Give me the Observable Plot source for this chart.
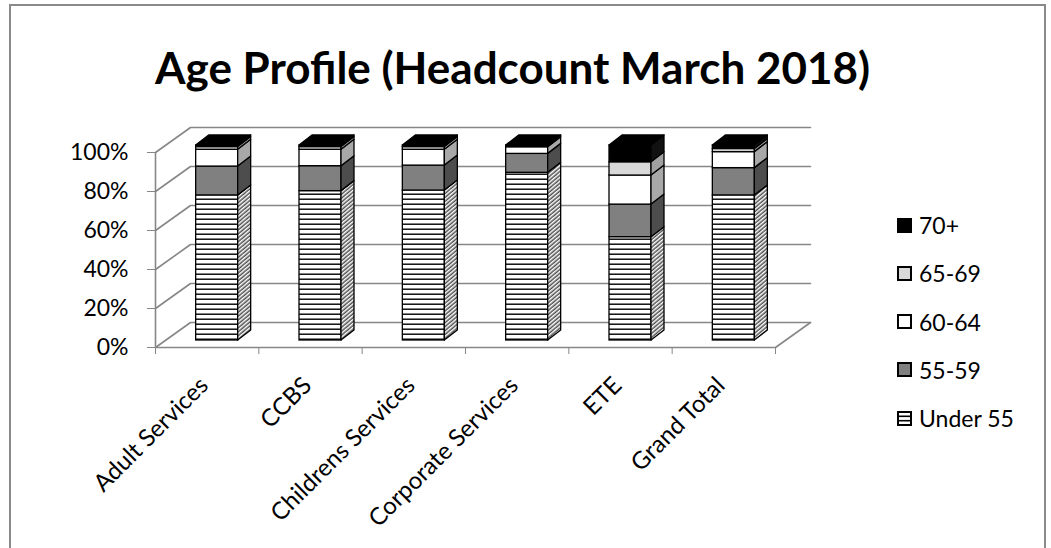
<!DOCTYPE html>
<html><head><meta charset="utf-8">
<script src="https://cdn.jsdelivr.net/npm/d3@7"></script>
<script src="https://cdn.jsdelivr.net/npm/@observablehq/plot@0.6"></script>
<style>
body{margin:0;background:#fff;}
#wrap{position:relative;width:1051px;height:548px;overflow:hidden;font-family:Lato, sans-serif;background:#fff;}
#frame{position:absolute;left:9px;top:4px;width:1037px;height:600px;border:2px solid #8a8a8a;border-bottom:none;box-sizing:border-box;}
#title{position:absolute;left:155px;top:41px;font-size:44px;font-weight:bold;line-height:1.2;color:#000;white-space:nowrap;}
#chart{position:absolute;left:0;top:0;}
#chart svg text{fill:#000;}
.leg{position:absolute;left:897px;height:26px;display:flex;align-items:center;font-size:23px;color:#000;white-space:nowrap;}
.leg svg{margin-right:7px;display:block;}
</style>
</head><body>
<div id="wrap">
  <div id="frame"></div>
  <div id="chart"></div>
  <div id="title">Age Profile (Headcount March 2018)</div>
</div>
<script>
// ---- data (percent of headcount) ----
const categories = ["Adult Services", "CCBS", "Childrens Services", "Corporate Services", "ETE", "Grand Total"];
const seriesNames = ["Under 55", "55-59", "60-64", "65-69", "70+"];
const under55 = [74.4, 76.6, 76.9, 86.0, 53.0, 74.4];
const age5559 = [14.8, 12.8, 12.8, 9.7, 16.7, 14.0];
const age6064 = [8.6, 8.4, 8.1, 3.4, 14.9, 8.2];
const age6569 = [1.4, 1.4, 1.4, 0.5, 6.8, 1.6];
const age70 = [0.8, 0.8, 0.8, 0.4, 8.6, 1.8];
const seriesValues = [under55, age5559, age6064, age6569, age70];
const yTicks = [0, 0.2, 0.4, 0.6, 0.8, 1];
const legendOrder = ["70+", "65-69", "60-64", "55-59", "Under 55"];

// ---- styles ----
const frontFill = ["url(#hlines)", "#808080", "#ffffff", "#d9d9d9", "#000000"];
const sideFill = ["url(#diag)", "#4d4d4d", "#a8a8a8", "#a0a0a0", "#111111"];
const gridColor = "#878787";

// ---- 3D projection geometry (pixel sizes converted to data units) ----
const X0 = 155, X1 = 775, Y0 = 347, Y1 = 152;
const n = categories.length;
const ux = (X1 - X0) / n, uy = (Y0 - Y1);
const wallDX = 35 / ux, wallDY = 25 / uy;
const frontDX = 10 / ux, frontDY = 7 / uy;
const sideDX = 13 / ux, sideDY = 10 / uy;
const barW = 42 / ux;

const segs = [];
categories.forEach((c, i) => {
  let acc = 0;
  seriesNames.forEach((s, k) => {
    const v = seriesValues[k][i] / 100;
    segs.push({cat: c, i, k, series: s, lo: acc, hi: acc + v, id: i * 10 + k});
    acc += v;
  });
});
const fx1 = d => d.i + 0.5 - barW / 2 + frontDX;
const fx2 = d => d.i + 0.5 + barW / 2 + frontDX;

const sidePts = segs.flatMap(d => [
  {id: d.id, k: d.k, x: fx2(d), y1: d.lo + frontDY, y2: d.hi + frontDY},
  {id: d.id, k: d.k, x: fx2(d) + sideDX, y1: d.lo + frontDY + sideDY, y2: d.hi + frontDY + sideDY}
]);
const tops = segs.filter(d => d.k === seriesNames.length - 1);
const topPts = tops.flatMap(d => [
  {id: d.i, y: d.hi + frontDY, x1: fx1(d), x2: fx2(d)},
  {id: d.i, y: d.hi + frontDY + sideDY, x1: fx1(d) + sideDX, x2: fx2(d) + sideDX}
]);
const wallPts = yTicks.flatMap(v => [
  {v, x: 0, y: v},
  {v, x: wallDX, y: v + wallDY},
  {v, x: n + wallDX, y: v + wallDY}
]);
const floorEdge = [{x: n, y: 0}, {x: n + wallDX, y: wallDY}];

const svg = Plot.plot({
  width: 1051, height: 548,
  marginLeft: X0, marginRight: 1051 - X1, marginTop: Y1, marginBottom: 548 - Y0,
  style: {fontFamily: "Lato, sans-serif", fontSize: "23px", color: gridColor, background: "transparent", overflow: "visible"},
  x: {domain: [0, n], ticks: d3.range(n + 1), tickSize: 7, tickFormat: () => "", label: null},
  y: {domain: [0, 1], ticks: yTicks, tickFormat: d3.format(".0%"), tickSize: 8, tickPadding: 19, label: null},
  color: {type: "identity"},
  marks: [
    Plot.line(wallPts, {x: "x", y: "y", z: "v", stroke: gridColor, strokeWidth: 1.6}),
    Plot.line(floorEdge, {x: "x", y: "y", stroke: gridColor, strokeWidth: 1.6}),
    Plot.ruleY([0], {x1: 0, x2: n, stroke: gridColor, strokeWidth: 1.6}),
    Plot.ruleX([0], {y1: 0, y2: 1, stroke: gridColor, strokeWidth: 1.6}),
    Plot.rect(segs, {x1: fx1, x2: fx2, y1: d => d.lo + frontDY, y2: d => d.hi + frontDY,
      fill: d => frontFill[d.k], stroke: "#000", strokeWidth: 1.3}),
    Plot.areaY(sidePts, {x: "x", y1: "y1", y2: "y2", z: "id", fill: d => sideFill[d.k], stroke: "#000", strokeWidth: 1.3}),
    Plot.areaX(topPts, {y: "y", x1: "x1", x2: "x2", z: "id", fill: "#000", stroke: "#000", strokeWidth: 1.3}),
    Plot.text(categories, {x: (d, i) => i + 0.5, y: () => 0, text: d => d, rotate: -45, textAnchor: "end",
      dx: -3, dy: 34, fontSize: 24, fill: "#000"})
  ]
});

const defs = d3.select(svg).insert("defs", ":first-child");
const p1 = defs.append("pattern").attr("id", "hlines").attr("patternUnits", "userSpaceOnUse").attr("width", 8).attr("height", 5);
p1.append("rect").attr("width", 8).attr("height", 5).attr("fill", "#fff");
p1.append("rect").attr("y", 3.5).attr("width", 8).attr("height", 1.4).attr("fill", "#000");
const p2 = defs.append("pattern").attr("id", "diag").attr("patternUnits", "userSpaceOnUse").attr("width", 6).attr("height", 3)
  .attr("patternTransform", "rotate(-40)");
p2.append("rect").attr("width", 6).attr("height", 3).attr("fill", "#fff");
p2.append("rect").attr("y", 1.6).attr("width", 6).attr("height", 1.2).attr("fill", "#222");
document.getElementById("chart").appendChild(svg);

// ---- legend ----
const legFront = Object.fromEntries(seriesNames.map((s, k) => [s, frontFill[k]]));
const wrap = document.getElementById("wrap");
legendOrder.forEach((s, j) => {
  const cy = 225 + j * 48.3;
  const div = document.createElement("div");
  div.className = "leg";
  div.style.top = (cy - 13) + "px";
  let inner;
  if (s === "Under 55") {
    inner = '<rect x="1" y="1" width="13" height="13" fill="#fff" stroke="#000" stroke-width="2"/>' +
      '<line x1="1" x2="14" y1="5.3" y2="5.3" stroke="#000" stroke-width="1.6"/>' +
      '<line x1="1" x2="14" y1="9.7" y2="9.7" stroke="#000" stroke-width="1.6"/>';
  } else {
    inner = '<rect x="1" y="1" width="13" height="13" fill="' + legFront[s] + '" stroke="#000" stroke-width="2"/>';
  }
  div.innerHTML = '<svg width="15" height="15">' + inner + '</svg><span>' + s + '</span>';
  wrap.appendChild(div);
});
</script>
</body></html>
